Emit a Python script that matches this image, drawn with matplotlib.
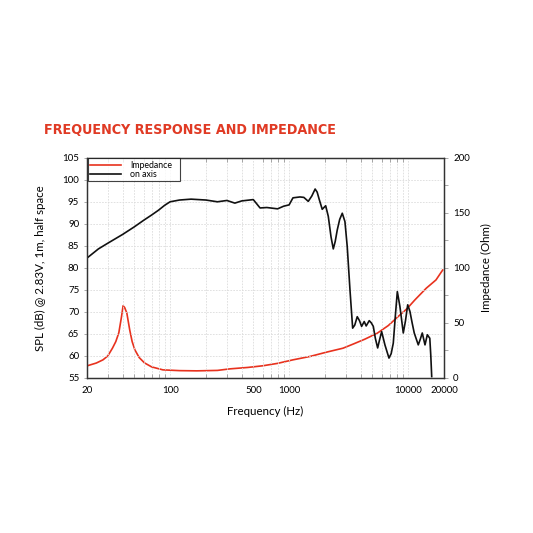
import matplotlib
matplotlib.use("Agg")
import matplotlib.pyplot as plt
from matplotlib.ticker import FixedLocator, NullFormatter, LogLocator, MultipleLocator

# SPL on axis (dB)
spl_freq = [20, 25, 30, 40, 50, 60, 70, 80, 90, 100, 120, 150, 200, 250, 300, 350, 400,
            500, 570, 650, 800, 900, 1000, 1077, 1233, 1330, 1448, 1550, 1654, 1720, 1792,
            1897, 2028, 2133, 2250, 2350, 2440, 2537, 2660, 2796, 2944, 3078, 3245, 3418,
            3560, 3735, 3900, 4065, 4275, 4440, 4710, 4900, 5095, 5300, 5544, 5770, 5990,
            6380, 6900, 7200, 7500, 7800, 8110, 8530, 9100, 9500, 9910, 10350, 10800, 11250,
            12160, 12650, 13140, 13850, 14490, 15200, 15500, 15770]
spl_db = [82.2, 84.3, 85.6, 87.6, 89.3, 90.8, 92.0, 93.1, 94.2, 95.0, 95.4, 95.6, 95.4, 95.0,
          95.3, 94.7, 95.2, 95.5, 93.6, 93.7, 93.4, 94.0, 94.3, 95.9, 96.1, 96.0, 95.1, 96.3,
          97.9, 97.2, 95.5, 93.3, 94.1, 91.7, 87.0, 84.3, 86.0, 88.6, 91.0, 92.4, 90.5, 84.8,
          75.0, 66.3, 67.0, 68.9, 68.0, 66.7, 67.8, 66.8, 68.0, 67.5, 66.7, 64.0, 61.8, 63.8,
          65.5, 62.5, 59.5, 60.5, 62.9, 69.0, 74.6, 71.2, 65.2, 68.0, 71.6, 70.1, 67.5, 65.2,
          62.5, 63.8, 65.2, 62.5, 64.8, 64.0, 60.0, 55.3]

# Impedance (Ohm)
imp_freq = [20, 24, 27.3, 30, 32.8, 35, 37.1, 39, 40.3, 41.5, 43.3, 45.8, 48, 50.6, 55, 61,
            70, 87, 120, 168, 250, 318, 450, 600, 800, 1077, 1500, 2100, 2840, 3500, 4330,
            5480, 6800, 8230, 9800, 11400, 14200, 17130, 19500]
imp_ohm = [10.9, 13.5, 16.4, 20.0, 27.0, 33.0, 41.0, 55.0, 65.5, 64.0, 59.0, 43.6, 33.0,
           25.5, 18.5, 13.6, 10.0, 7.3, 6.6, 6.4, 6.8, 8.2, 9.5, 11.0, 13.2, 16.4, 19.5,
           23.6, 27.0, 31.0, 35.2, 40.5, 47.5, 55.7, 63.0, 70.9, 81.5, 89.0, 98.0]

xticks = [20, 100, 500, 1000, 10000, 20000]
xticklabels = ["20", "100", "500", "1000", "10000", "20000"]

plt.rcParams["font.family"] = ["Lato", "DejaVu Sans"]

fig = plt.figure(figsize=(5.33, 5.33), dpi=100)
ax = fig.add_axes([0.163, 0.291, 0.670, 0.413])
ax2 = ax.twinx()

grid_c = "#dcdcdc"
ax.set_xscale("log")
ax.set_xlim(20, 20000)
ax.set_ylim(55, 105)
ax2.set_ylim(0, 200)

ax.xaxis.set_major_locator(FixedLocator(xticks))
ax.set_xticklabels(xticklabels)
ax.xaxis.set_minor_locator(LogLocator(base=10, subs=range(2, 10), numticks=20))
ax.xaxis.set_minor_formatter(NullFormatter())
ax.yaxis.set_major_locator(MultipleLocator(5))
ax2.yaxis.set_major_locator(MultipleLocator(50))
ax2.yaxis.set_minor_locator(MultipleLocator(25))

ax.grid(True, which="both", axis="x", color=grid_c, linestyle=(0, (2, 1.5)), linewidth=0.6)
ax.grid(True, which="major", axis="y", color=grid_c, linestyle=(0, (2, 1.5)), linewidth=0.6)

ax.tick_params(axis="x", which="both", direction="in", top=True, length=3, width=0.6,
               color="#999999", labelsize=7, pad=6)
ax.tick_params(axis="x", which="major", length=0)
ax.tick_params(axis="y", which="both", direction="out", length=2, width=0.6,
               color="#999999", labelsize=7)
ax2.tick_params(axis="y", which="both", direction="out", length=3, width=0.6,
                color="#999999", labelsize=7)

for a in (ax, ax2):
    for s in a.spines.values():
        s.set_color("#333333")
        s.set_linewidth(0.9)

l2, = ax2.plot(imp_freq, imp_ohm, color="#e8321e", linewidth=1.2, label="Impedance",
               solid_joinstyle="round")
l1, = ax.plot(spl_freq, spl_db, color="#111111", linewidth=1.2, label="on axis",
              solid_joinstyle="round")

ax.set_zorder(ax2.get_zorder() + 1)
ax.patch.set_visible(False)

leg = ax.legend(handles=[l2, l1], loc="upper left", fontsize=6.3, frameon=True,
                fancybox=False, bbox_to_anchor=(0.002, 0.0, 0.259, 0.997), mode="expand",
                borderaxespad=0.0, borderpad=0.25, labelspacing=0.05,
                handlelength=3.6, handletextpad=1.0)
leg.get_frame().set_edgecolor("#111111")
leg.get_frame().set_linewidth(0.8)

ax.set_xlabel("Frequency (Hz)", fontsize=8.3, labelpad=8)
ax.set_ylabel("SPL (dB) @ 2.83V, 1m, half space", fontsize=8.3, labelpad=12)
ax2.set_ylabel("Impedance (Ohm)", fontsize=8.3, labelpad=8)

fig.text(44 / 533, 1 - 129.5 / 533, "FREQUENCY RESPONSE AND IMPEDANCE",
         fontsize=10.3, fontweight="bold", color="#e03a24", fontstretch="condensed",
         family=["DejaVu Sans"], va="center", ha="left")

fig.savefig("out.png", dpi=100)
